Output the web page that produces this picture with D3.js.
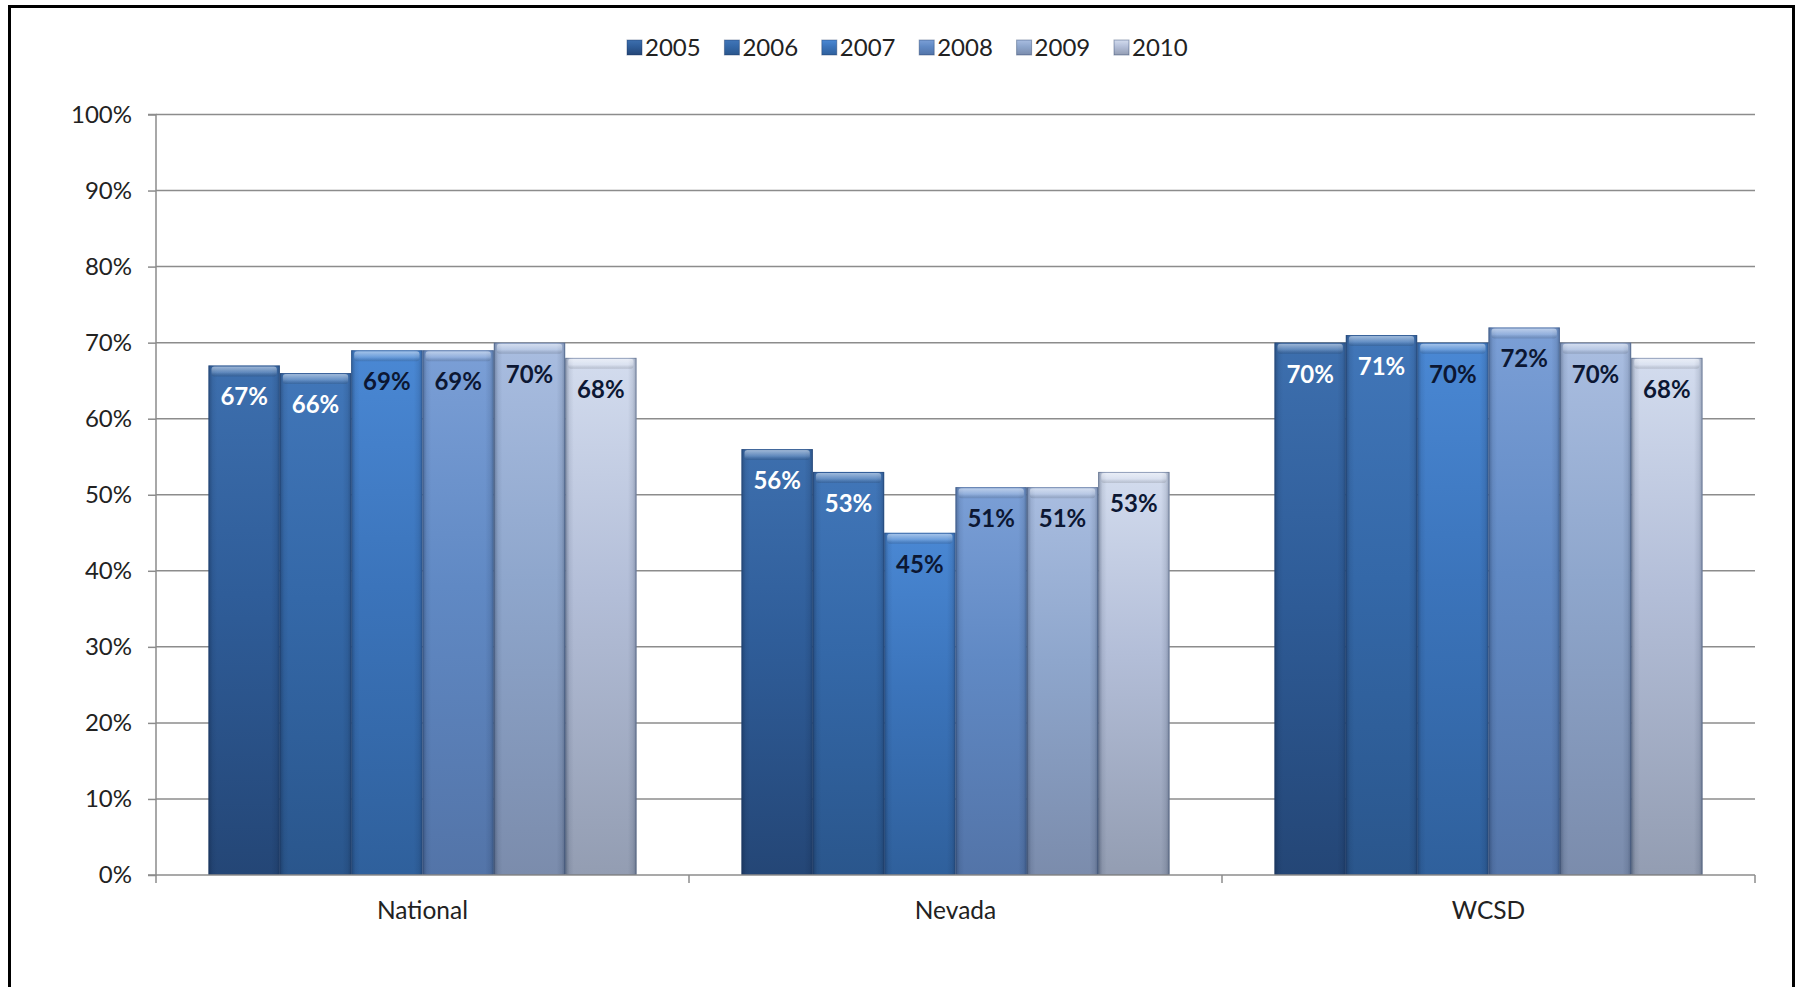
<!DOCTYPE html>
<html>
<head>
<meta charset="utf-8">
<script src="https://cdn.jsdelivr.net/npm/d3@7"></script>
<style>
  html, body { margin: 0; padding: 0; background: #fff; }
  svg { display: block; }
  text { font-family: Lato, "Liberation Sans", sans-serif; }
</style>
</head>
<body>
<svg id="chart" width="1795" height="987"></svg>
<script>
// Chart data
const categories = ["National", "Nevada", "WCSD"];
const years = ["2005", "2006", "2007", "2008", "2009", "2010"];
const values = {
  "2005": [0.67, 0.56, 0.70],
  "2006": [0.66, 0.53, 0.71],
  "2007": [0.69, 0.45, 0.70],
  "2008": [0.69, 0.51, 0.72],
  "2009": [0.70, 0.51, 0.70],
  "2010": [0.68, 0.53, 0.68]
};
const yTicks = [0, 0.1, 0.2, 0.3, 0.4, 0.5, 0.6, 0.7, 0.8, 0.9, 1.0];

// Per-series gradient stops: top, middle, bottom
const palette = {
  "2005": ["#3d6fae", "#2f5d99", "#244676"],
  "2006": ["#4176b8", "#3468a8", "#2a568c"],
  "2007": ["#4a88d4", "#3b74bb", "#2f609c"],
  "2008": ["#7b9fd6", "#6089c4", "#5374a8"],
  "2009": ["#a9bde0", "#8ea6cc", "#7b8cac"],
  "2010": ["#d3dcee", "#b3bed8", "#939db2"]
};
const labelColor = { "2005": "#ffffff", "2006": "#ffffff", "2007": "#0c1733", "2008": "#0c1733", "2009": "#0c1733", "2010": "#0c1733" };

const svg = d3.select("#chart");
const plot = { left: 156, right: 1755, top: 114.5, bottom: 875 };

// Frame around the chart area
svg.append("path")
  .attr("d", `M9.5,990 L9.5,6.5 L1793.5,6.5 L1793.5,990`)
  .attr("fill", "none").attr("stroke", "#000").attr("stroke-width", 3);

const y = d3.scaleLinear().domain([0, 1]).range([plot.bottom, plot.top]);
const x0 = d3.scaleBand().domain(categories).range([plot.left, plot.right])
  .paddingInner(0.197).paddingOuter(0.0985);
const x1 = d3.scaleBand().domain(years).range([0, x0.bandwidth()]).padding(0);

const defs = svg.append("defs");
years.forEach((yr, i) => {
  const g = defs.append("linearGradient").attr("id", "grad" + i)
    .attr("x1", 0).attr("y1", 0).attr("x2", 0).attr("y2", 1);
  g.append("stop").attr("offset", "0%").attr("stop-color", palette[yr][0]);
  g.append("stop").attr("offset", "45%").attr("stop-color", palette[yr][1]);
  g.append("stop").attr("offset", "100%").attr("stop-color", palette[yr][2]);
});
// Side shading for the bevelled look
const side = defs.append("linearGradient").attr("id", "side")
  .attr("x1", 0).attr("y1", 0).attr("x2", 1).attr("y2", 0);
[[0, 0.35], [0.06, 0.08], [0.12, 0], [0.88, 0], [0.95, 0.1], [1, 0.3]].forEach(([o, a]) =>
  side.append("stop").attr("offset", o).attr("stop-color", "#0a1a35").attr("stop-opacity", a));
const topBevel = defs.append("linearGradient").attr("id", "topBevel")
  .attr("x1", 0).attr("y1", 0).attr("x2", 0).attr("y2", 1);
[[0, "#ffffff", 0.5], [0.6, "#ffffff", 0.18], [1, "#000000", 0.12]].forEach(([o, c, a]) =>
  topBevel.append("stop").attr("offset", o).attr("stop-color", c).attr("stop-opacity", a));

// Gridlines
svg.append("g").selectAll("line").data(yTicks.filter(d => d > 0)).join("line")
  .attr("x1", plot.left).attr("x2", plot.right)
  .attr("y1", d => y(d)).attr("y2", d => y(d))
  .attr("stroke", "#8c8c8c").attr("stroke-width", 1.5);

// Y axis
const yAxis = d3.axisLeft(y).tickValues(yTicks).tickFormat(d3.format(".0%")).tickSize(8).tickPadding(16);
const ya = svg.append("g").attr("transform", `translate(${plot.left},0)`).call(yAxis);
ya.select(".domain").attr("stroke", "#8c8c8c").attr("stroke-width", 1.5).attr("d", `M-8,${plot.top}H0V${plot.bottom}H-8`);
ya.selectAll(".tick line").attr("stroke", "#8c8c8c").attr("stroke-width", 1.5);
ya.selectAll(".tick text").attr("font-size", 24).attr("fill", "#222")
  .attr("font-family", "Lato, 'Liberation Sans', sans-serif");

// Bars
const groups = svg.append("g").selectAll("g").data(categories).join("g")
  .attr("transform", c => `translate(${x0(c)},0)`);

groups.each(function (c, ci) {
  const g = d3.select(this);
  years.forEach((yr, si) => {
    const v = values[yr][ci];
    const bx = x1(yr), bw = x1.bandwidth(), by = y(v), bh = y(0) - y(v);
    g.append("rect").attr("x", bx).attr("y", by).attr("width", bw).attr("height", bh)
      .attr("fill", `url(#grad${si})`);
    g.append("rect").attr("x", bx).attr("y", by).attr("width", bw).attr("height", bh)
      .attr("fill", "url(#side)");
    g.append("rect").attr("x", bx + 3).attr("y", by + 1).attr("width", bw - 6).attr("height", 10)
      .attr("rx", 3).attr("fill", "url(#topBevel)");
    g.append("rect").attr("x", bx + 0.5).attr("y", by + 0.5).attr("width", bw - 1).attr("height", bh - 1)
      .attr("fill", "none").attr("stroke", "#1c355f").attr("stroke-opacity", 0.35).attr("stroke-width", 1);
    g.append("text")
      .attr("x", bx + bw / 2).attr("y", by + 40)
      .attr("text-anchor", "middle").attr("font-size", 24).attr("font-weight", 700)
      .attr("fill", labelColor[yr])
      .text(d3.format(".0%")(v));
  });
});

// X axis
svg.append("line").attr("x1", plot.left).attr("x2", plot.right)
  .attr("y1", plot.bottom).attr("y2", plot.bottom)
  .attr("stroke", "#8c8c8c").attr("stroke-width", 1.5);
const xTicks = [plot.left, ...categories.slice(1).map(c => x0(c) - x0.step() * x0.paddingInner() / 2), plot.right];
svg.append("g").selectAll("line").data(xTicks).join("line")
  .attr("x1", d => d).attr("x2", d => d).attr("y1", plot.bottom).attr("y2", plot.bottom + 8)
  .attr("stroke", "#8c8c8c").attr("stroke-width", 1.5);
svg.append("g").selectAll("text").data(categories).join("text")
  .attr("x", c => x0(c) + x0.bandwidth() / 2).attr("y", 919)
  .attr("text-anchor", "middle").attr("font-size", 24.5).attr("fill", "#222")
  .text(c => c);

// Legend
const legend = svg.append("g").selectAll("g").data(years).join("g")
  .attr("transform", (d, i) => `translate(${627 + i * 97.4},40)`);
legend.append("rect").attr("width", 15).attr("height", 15)
  .attr("fill", (d, i) => `url(#grad${i})`).attr("stroke", "#1c355f").attr("stroke-opacity", 0.4);
legend.append("text").attr("x", 18).attr("y", 16).attr("font-size", 24).attr("fill", "#222")
  .text(d => d);
</script>
</body>
</html>
